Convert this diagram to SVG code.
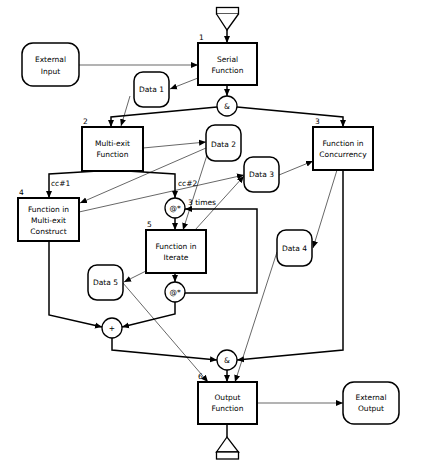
<svg xmlns="http://www.w3.org/2000/svg" width="425" height="474" viewBox="0 0 425 474">
<defs>
<style>
.box{fill:#fff;stroke:#000;stroke-width:2}
.data{fill:#fff;stroke:#000;stroke-width:1.5}
.circ{fill:#fff;stroke:#000;stroke-width:1.3}
.flow{fill:none;stroke:#000;stroke-width:1.5}
.thin{fill:none;stroke:#000;stroke-width:0.6}
text{font-family:"DejaVu Sans",sans-serif;font-size:7.5px;fill:#000;text-anchor:middle}
.lbl{text-anchor:start}
</style>
<marker id="a" markerUnits="userSpaceOnUse" markerWidth="8" markerHeight="8" refX="7" refY="4" orient="auto">
<path d="M0,1 L7,4 L0,7 Z" fill="#000"/>
</marker>
</defs>
<rect width="425" height="474" fill="#fff"/>

<g id="connectors">
<path class="flow" d="M227,30 V43" marker-end="url(#a)"/>
<path class="thin" d="M79,65 H198" marker-end="url(#a)"/>
<path class="thin" d="M198,78 L170,89" marker-end="url(#a)"/>
<path class="thin" d="M130,96 L121,126" marker-end="url(#a)"/>
<path class="flow" d="M227,85 V96" marker-end="url(#a)"/>
<path class="flow" d="M217,107 L111,117 V127" marker-end="url(#a)"/>
<path class="flow" d="M237,107 L343,117 V127" marker-end="url(#a)"/>
<path class="thin" d="M143,148 L206,142" marker-end="url(#a)"/>
<path class="thin" d="M206,148 L80,203" marker-end="url(#a)"/>
<path class="flow" d="M98,171 L49,174 V198" marker-end="url(#a)"/>
<path class="flow" d="M127,171 L175,174 V198" marker-end="url(#a)"/>
<path class="thin" d="M79,212 L244,175" marker-end="url(#a)"/>
<path class="thin" d="M195,230 L244,176" marker-end="url(#a)"/>
<path class="thin" d="M207,155 L183,230" marker-end="url(#a)"/>
<path class="thin" d="M279,175 L313,161" marker-end="url(#a)"/>
<path class="flow" d="M175,218 V230" marker-end="url(#a)"/>
<path class="flow" d="M185,293 H257 V209 H185" marker-end="url(#a)"/>
<path class="flow" d="M175,273 V282" marker-end="url(#a)"/>
<path class="thin" d="M146,271 L124,282" marker-end="url(#a)"/>
<path class="thin" d="M337,170 L313,248" marker-end="url(#a)"/>
<path class="thin" d="M123,283 L208,382" marker-end="url(#a)"/>
<path class="thin" d="M277,252 L235,382" marker-end="url(#a)"/>
<path class="flow" d="M343,170 V350 L237,360" marker-end="url(#a)"/>
<path class="flow" d="M49,241 V315 L102,327" marker-end="url(#a)"/>
<path class="flow" d="M175,302 V314 L122,327" marker-end="url(#a)"/>
<path class="flow" d="M112,338 V350 L217,360" marker-end="url(#a)"/>
<path class="flow" d="M227,370 V382" marker-end="url(#a)"/>
<path class="thin" d="M257,403 H343" marker-end="url(#a)"/>
<path class="flow" d="M227,424 V437"/>
<text class="lbl" x="51" y="186">cc#1</text>
<text class="lbl" x="178" y="186">cc#2</text>
<text class="lbl" x="188" y="205">3 times</text>
</g>

<g id="trigger-in">
<rect class="circ" x="216.5" y="7.5" width="22" height="6.5" stroke-width="1.5"/>
<path class="circ" d="M216.5,14 L227,30 L238.5,14" fill="none"/>
</g>
<g id="trigger-out">
<path class="circ" d="M216.5,452 L227,437 L238.5,452 Z" fill="#fff"/>
<rect class="circ" x="216.5" y="452" width="22" height="7" stroke-width="1.5"/>
</g>

<g id="external-input">
<rect class="data" x="22" y="43" width="57" height="43" rx="11"/>
<text x="50.5" y="62">External</text><text x="50.5" y="74">Input</text>
</g>
<g id="f1">
<rect class="box" x="198" y="43" width="59" height="42"/>
<text class="lbl" x="199" y="40">1</text>
<text x="227.5" y="62">Serial</text><text x="227.5" y="73">Function</text>
</g>
<g id="data1">
<rect class="data" x="134" y="72" width="35" height="35" rx="9"/>
<text x="151.5" y="92">Data 1</text>
</g>
<g id="and1">
<circle class="circ" cx="227" cy="106" r="10"/>
<text x="227" y="109">&amp;</text>
</g>
<g id="f2">
<rect class="box" x="82" y="127" width="61" height="44"/>
<text class="lbl" x="83" y="124">2</text>
<text x="112.5" y="146">Multi-exit</text><text x="112.5" y="157">Function</text>
</g>
<g id="f3">
<rect class="box" x="313" y="127" width="60" height="43"/>
<text class="lbl" x="315" y="124">3</text>
<text x="343" y="146">Function in</text><text x="343" y="157">Concurrency</text>
</g>
<g id="data2">
<rect class="data" x="206" y="125" width="35" height="36" rx="9"/>
<text x="223.5" y="147">Data 2</text>
</g>
<g id="data3">
<rect class="data" x="244" y="157" width="35" height="35" rx="9"/>
<text x="261.5" y="177">Data 3</text>
</g>
<g id="f4">
<rect class="box" x="18" y="198" width="61" height="43"/>
<text class="lbl" x="19" y="195">4</text>
<text x="48.5" y="212">Function in</text><text x="48.5" y="223">Multi-exit</text><text x="48.5" y="234">Construct</text>
</g>
<g id="iter-top">
<circle class="circ" cx="175" cy="208" r="10"/>
<text x="175" y="211">@*</text>
</g>
<g id="f5">
<rect class="box" x="146" y="230" width="60" height="43"/>
<text class="lbl" x="147" y="227">5</text>
<text x="176" y="249">Function in</text><text x="176" y="260">Iterate</text>
</g>
<g id="iter-bottom">
<circle class="circ" cx="175" cy="292" r="10"/>
<text x="175" y="295">@*</text>
</g>
<g id="data4">
<rect class="data" x="277" y="230" width="35" height="36" rx="9"/>
<text x="294.5" y="251">Data 4</text>
</g>
<g id="data5">
<rect class="data" x="88" y="265" width="35" height="35" rx="9"/>
<text x="105.5" y="285">Data 5</text>
</g>
<g id="or">
<circle class="circ" cx="112" cy="328" r="10"/>
<text x="112" y="331">+</text>
</g>
<g id="and2">
<circle class="circ" cx="227" cy="360" r="10"/>
<text x="227" y="363">&amp;</text>
</g>
<g id="f6">
<rect class="box" x="198" y="382" width="59" height="42"/>
<text class="lbl" x="198" y="379">6</text>
<text x="227.5" y="400">Output</text><text x="227.5" y="411">Function</text>
</g>
<g id="external-output">
<rect class="data" x="343" y="382" width="56" height="42" rx="11"/>
<text x="371" y="400">External</text><text x="371" y="411">Output</text>
</g>
</svg>
